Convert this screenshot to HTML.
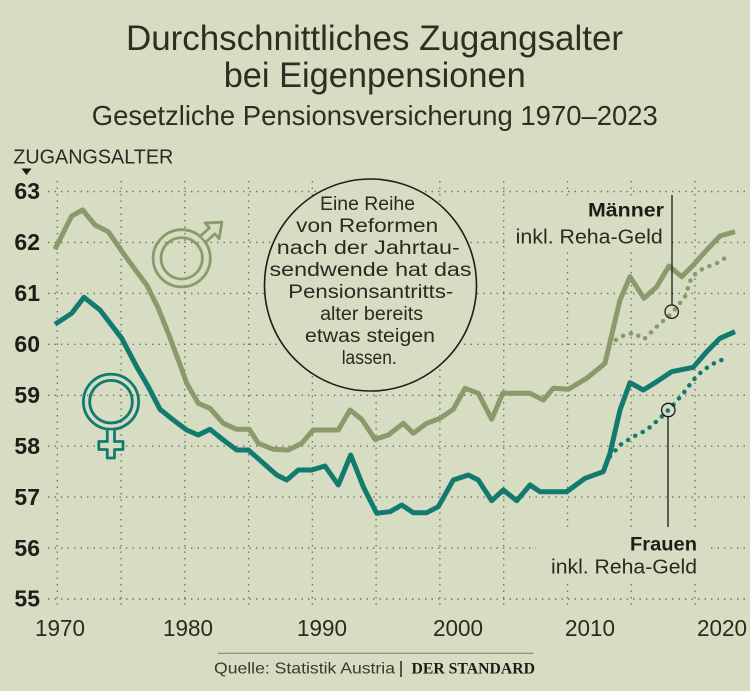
<!DOCTYPE html>
<html>
<head>
<meta charset="utf-8">
<style>
  html,body{margin:0;padding:0;background:#d7ddc3;}
  svg{display:block;}
  text{font-family:"Liberation Sans",sans-serif;}
</style>
</head>
<body>
<svg width="750" height="691" viewBox="0 0 750 691" xmlns="http://www.w3.org/2000/svg">
  <rect x="0" y="0" width="750" height="691" fill="#d7ddc3"/>

  <!-- Titles -->
  <text x="374.5" y="50" font-size="35" fill="#2e2e22" text-anchor="middle" textLength="497" lengthAdjust="spacingAndGlyphs">Durchschnittliches Zugangsalter</text>
  <text x="374.7" y="87" font-size="35" fill="#2e2e22" text-anchor="middle" textLength="302" lengthAdjust="spacingAndGlyphs">bei Eigenpensionen</text>
  <text x="374.8" y="125" font-size="27.5" fill="#2e2e22" text-anchor="middle" textLength="566" lengthAdjust="spacingAndGlyphs">Gesetzliche Pensionsversicherung 1970–2023</text>

  <!-- Axis title -->
  <text x="13.3" y="163.3" font-size="20" fill="#2a2a20" textLength="160" lengthAdjust="spacingAndGlyphs">ZUGANGSALTER</text>
  <polygon points="21.5,168.5 31.5,168.5 26.5,175" fill="#1a1a1a"/>

  <!-- Grid -->
  <g stroke="#6c715a" stroke-width="1.4" stroke-dasharray="1.4 5.1" fill="none">
    <line x1="48" y1="191.5" x2="750" y2="191.5"/>
    <line x1="48" y1="242.4" x2="750" y2="242.4"/>
    <line x1="48" y1="293.4" x2="750" y2="293.4"/>
    <line x1="48" y1="344.3" x2="750" y2="344.3"/>
    <line x1="48" y1="395.3" x2="750" y2="395.3"/>
    <line x1="48" y1="446.2" x2="750" y2="446.2"/>
    <line x1="48" y1="497.1" x2="750" y2="497.1"/>
    <line x1="48" y1="548.1" x2="750" y2="548.1"/>
    <line x1="48" y1="599" x2="750" y2="599"/>
    <line x1="57.3" y1="181" x2="57.3" y2="606"/>
    <line x1="121.1" y1="181" x2="121.1" y2="606"/>
    <line x1="184.8" y1="181" x2="184.8" y2="606"/>
    <line x1="248.6" y1="181" x2="248.6" y2="606"/>
    <line x1="312.4" y1="181" x2="312.4" y2="606"/>
    <line x1="376.1" y1="181" x2="376.1" y2="606"/>
    <line x1="439.9" y1="181" x2="439.9" y2="606"/>
    <line x1="503.7" y1="181" x2="503.7" y2="606"/>
    <line x1="567.5" y1="181" x2="567.5" y2="606"/>
    <line x1="631.2" y1="181" x2="631.2" y2="606"/>
    <line x1="695" y1="181" x2="695" y2="606"/>
  </g>

  <!-- label background patches -->
  <rect x="508" y="196" width="160" height="54" fill="#d7ddc3"/>
  <rect x="536" y="527" width="172" height="57" fill="#d7ddc3"/>

  <!-- Y labels -->
  <g font-size="23" font-weight="bold" fill="#1e1e16" text-anchor="end">
    <text x="40" y="199">63</text>
    <text x="40" y="250">62</text>
    <text x="40" y="301">61</text>
    <text x="40" y="352">60</text>
    <text x="40" y="403">59</text>
    <text x="40" y="454">58</text>
    <text x="40" y="505">57</text>
    <text x="40" y="556">56</text>
    <text x="40" y="606.5">55</text>
  </g>

  <!-- X labels -->
  <g font-size="23" fill="#2a2a20" text-anchor="middle">
    <text x="60" y="636" textLength="50" lengthAdjust="spacingAndGlyphs">1970</text>
    <text x="188" y="636" textLength="50" lengthAdjust="spacingAndGlyphs">1980</text>
    <text x="322" y="636" textLength="50" lengthAdjust="spacingAndGlyphs">1990</text>
    <text x="458" y="636" textLength="50" lengthAdjust="spacingAndGlyphs">2000</text>
    <text x="590" y="636" textLength="50" lengthAdjust="spacingAndGlyphs">2010</text>
    <text x="722" y="636" textLength="50" lengthAdjust="spacingAndGlyphs">2020</text>
  </g>

  <!-- Annotation circle -->
  <circle cx="370.5" cy="285" r="106" fill="#d7ddc3" stroke="#1e1e16" stroke-width="1.6"/>
  <g font-size="19" fill="#2a2a20" text-anchor="middle">
    <text x="367.5" y="210" textLength="95" lengthAdjust="spacingAndGlyphs">Eine Reihe</text>
    <text x="367.2" y="232" textLength="142" lengthAdjust="spacingAndGlyphs">von Reformen</text>
    <text x="368.3" y="254" textLength="183" lengthAdjust="spacingAndGlyphs">nach der Jahrtau-</text>
    <text x="370.5" y="276" textLength="202" lengthAdjust="spacingAndGlyphs">sendwende hat das</text>
    <text x="370.8" y="298" textLength="165" lengthAdjust="spacingAndGlyphs">Pensionsantritts-</text>
    <text x="371.6" y="320" textLength="103" lengthAdjust="spacingAndGlyphs">alter bereits</text>
    <text x="370" y="342" textLength="130" lengthAdjust="spacingAndGlyphs">etwas steigen</text>
    <text x="369.2" y="364" textLength="55" lengthAdjust="spacingAndGlyphs">lassen.</text>
  </g>

  <!-- Male symbol -->
  <g stroke="#8b9a6b" stroke-width="2.8" fill="none" stroke-linejoin="round">
    <circle cx="181.7" cy="258.3" r="28.6"/>
    <circle cx="181.7" cy="258.3" r="20.7"/>
    <g transform="translate(181.7,258.3) rotate(-42)">
      <path d="M29.5,-4 L41,-4 L41,-10.5 L54,0 L41,10.5 L41,4 L29.5,4" fill="#d7ddc3"/>
    </g>
  </g>

  <!-- Female symbol -->
  <g stroke="#137a70" stroke-width="2.8" fill="none" stroke-linejoin="round">
    <circle cx="111" cy="401.7" r="27.6"/>
    <circle cx="111" cy="401.7" r="21.3"/>
    <path d="M107.3,430.2 V441.5 H98.8 V449.5 H107.3 V458 H114.5 V449.5 H123 V441.5 H114.5 V430.2" fill="#d7ddc3"/>
  </g>

  <!-- Dotted series (incl. Reha-Geld) -->
  <polyline fill="none" stroke="#8b9a6b" stroke-width="4.5" stroke-linecap="round" stroke-dasharray="0.1 8.2"
    points="609.3,345 620,336.7 633.3,332.7 644,339.3 656.7,326.7 671.7,313.3 685,296.7 691.7,276.7 703.3,268.3 716.7,263.3 730,255"/>
  <polyline fill="none" stroke="#137a70" stroke-width="4.5" stroke-linecap="round" stroke-dasharray="0.1 8.2"
    points="610,456.7 620,445 633.3,436.7 646.7,430 660,418.3 671.7,406.7 683.3,393.3 693.3,380 703.3,370 716.7,361.7 726.7,358.3"/>

  <!-- Male solid -->
  <polyline fill="none" stroke="#8b9a6b" stroke-width="5" stroke-linejoin="round" stroke-linecap="butt"
    points="55,249.3 71.7,216 82.7,210 95,225 108.3,231.7 123.3,253.3 136.7,271.7 146.7,285 158.3,308.3 168.3,333.3 178.3,360 186.7,383.3 198.3,403.3 210,408.3 223.3,423.3 236.7,429.3 249.3,429.3 258.3,443.3 273.3,449.3 288.3,450 301.7,443.3 313.3,430 338.3,430 350,410 361.7,419.3 375,439.3 388.3,435 403.3,423.3 413.3,433.3 426.7,423.3 440,418.3 453.3,409.3 465,388.3 478.3,393.3 491.7,419.3 502.7,393.3 530,393.3 543.3,400 553.3,388.3 568.3,389.3 586.7,378.3 605,363.3 609.3,345 620,300 630,276.7 644,298.3 656.7,286.7 669,266 681.7,276.7 693.3,265 706.7,250 720,236 735,231.7"/>

  <!-- Female solid -->
  <polyline fill="none" stroke="#137a70" stroke-width="5" stroke-linejoin="round" stroke-linecap="butt"
    points="55,324.3 71.7,313.3 84,297.3 100,310 121.7,338.3 136.7,366.7 148.3,386.7 160,409.3 173.3,420 186.7,430 198.3,435 210,429.3 223.3,440 236.7,450 248.3,450 261.7,461.7 276.7,475 286.7,480 298.3,470 311.7,470 325,466 338.3,485 350.7,455 363.3,486.7 376.7,513.3 390,511.7 401.7,505 413.3,512.7 426.7,512.7 438.3,506.7 453.3,480 468.3,475 478.3,480 491.7,500.7 503.3,490 516.7,500.7 530,485 540,491.7 566.7,491.7 585,478.3 603.3,471.7 610,453.3 620,410 630,382.7 643.3,390 656.7,381.7 671.7,371.7 693.3,367.3 706.7,351.7 720,338.3 735,331.7"/>

  <!-- Leaders and markers -->
  <g stroke="#1a1a1a" stroke-width="1.3" fill="none">
    <line x1="672" y1="195" x2="672" y2="305"/>
    <circle cx="671.7" cy="311.7" r="6.7"/>
    <line x1="668" y1="416.7" x2="668" y2="527"/>
    <circle cx="668.3" cy="410" r="6.7"/>
  </g>

  <!-- Series labels -->
  <text x="664" y="216.7" font-size="19" font-weight="bold" fill="#1e1e16" text-anchor="end" textLength="76" lengthAdjust="spacingAndGlyphs">Männer</text>
  <text x="662.7" y="243.3" font-size="20" fill="#2a2a20" text-anchor="end" textLength="147" lengthAdjust="spacingAndGlyphs">inkl. Reha-Geld</text>
  <text x="697" y="550.5" font-size="19" font-weight="bold" fill="#1e1e16" text-anchor="end" textLength="67" lengthAdjust="spacingAndGlyphs">Frauen</text>
  <text x="697" y="573.3" font-size="20" fill="#2a2a20" text-anchor="end" textLength="146" lengthAdjust="spacingAndGlyphs">inkl. Reha-Geld</text>

  <!-- Source -->
  <line x1="217.7" y1="653.3" x2="533.5" y2="653.3" stroke="#85887a" stroke-width="1.2"/>
  <text x="214" y="673.3" font-size="16" fill="#3a3a30" textLength="181" lengthAdjust="spacingAndGlyphs">Quelle: Statistik Austria</text>
  <line x1="401" y1="661" x2="401" y2="677" stroke="#2a2a20" stroke-width="1.5"/>
  <text x="411.5" y="673.3" font-size="15.5" font-weight="bold" fill="#1e1e16" font-family="Liberation Serif, serif" style="font-family:'Liberation Serif',serif" textLength="123.5" lengthAdjust="spacingAndGlyphs">DER STANDARD</text>
</svg>
</body>
</html>
